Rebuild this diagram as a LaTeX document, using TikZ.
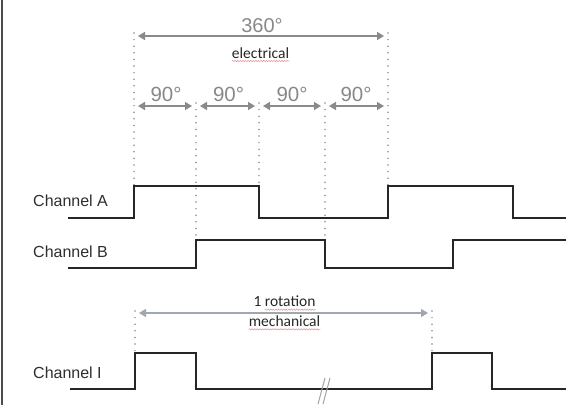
\documentclass[tikz,border=0pt]{standalone}
\usepackage{fontspec}
\setmainfont{Liberation Sans}
\newfontfamily\calib{Carlito}
\usetikzlibrary{arrows.meta,decorations.pathmorphing}
\definecolor{wavec}{HTML}{262626}
\definecolor{dimc}{HTML}{8A8A8A}
\definecolor{dimtext}{HTML}{888888}
\definecolor{mechc}{HTML}{A0A7AF}
\definecolor{squigc}{HTML}{E79A9A}
\definecolor{labc}{HTML}{2E2E2E}
\begin{document}
\begin{tikzpicture}[x=1pt,y=-1pt,
  wave/.style={draw=wavec,line width=2.2pt,line join=miter},
  guide/.style={draw=dimc,line width=1.7pt,line cap=round,dash pattern=on 0pt off 6.6pt},
  dimarrow/.style={draw=dimc,line width=1.5pt,{Triangle[length=7pt,width=8pt]}-{Triangle[length=7pt,width=8pt]}},
  mecharrow/.style={draw=mechc,line width=1.2pt,{Triangle[length=7pt,width=8pt]}-{Triangle[length=7pt,width=8pt]}},
  chanlabel/.style={inner sep=0pt,anchor=base west,text=labc,font=\fontsize{16}{18}\selectfont},
  deglabel/.style={inner sep=0pt,anchor=base,text=dimtext,font=\fontsize{20.5}{24}\selectfont},
  wordlabel/.style={inner sep=0pt,anchor=base,text=black!85,font=\calib\fontsize{15.5}{18}\selectfont},
  squig/.style={draw=squigc,line width=0.6pt,decorate,decoration={snake,amplitude=0.6pt,segment length=2.6pt}},
  breakmark/.style={draw=dimc!80,line width=1pt}
]
\useasboundingbox (0,0) rectangle (588,405);
% left frame edge
\draw[line width=2.4pt,color=black!70] (2.2,0) -- (2.2,405);

% named guide coordinates
\coordinate (g0t) at (134,33);  \coordinate (g0b) at (134,186);
\coordinate (g1t) at (196,103); \coordinate (g1b) at (196,240);
\coordinate (g2t) at (259,103); \coordinate (g2b) at (259,186);
\coordinate (g3t) at (325,103); \coordinate (g3b) at (325,240);
\coordinate (g4t) at (388,33);  \coordinate (g4b) at (388,186);
\coordinate (m0t) at (135,311); \coordinate (m0b) at (135,353);
\coordinate (m1t) at (432,311); \coordinate (m1b) at (432,353);

% dotted guides
\foreach \g in {g0,g1,g2,g3,g4,m0,m1} \draw[guide] (\g t) -- (\g b);

% electrical 360 arrow
\coordinate (e0) at (138,36); \coordinate (e1) at (384,36);
\draw[dimarrow] (e0) -- (e1);
\node[deglabel,font=\fontsize{20}{24}\selectfont] (d360) at (262,32.3) {360°};
\node[wordlabel] (elec) at (260.5,58) {electrical};
\draw[squig] ([yshift=-3pt]elec.base west) -- ([yshift=-3pt]elec.base east);

% 90 degree arrows
\coordinate (q0a) at (138,106); \coordinate (q0b) at (192,106);
\coordinate (q1a) at (200,106); \coordinate (q1b) at (255,106);
\coordinate (q2a) at (263,106); \coordinate (q2b) at (321,106);
\coordinate (q3a) at (329,106); \coordinate (q3b) at (384,106);
\foreach \q in {q0,q1,q2,q3} \draw[dimarrow] (\q a) -- (\q b);
\node[deglabel] (n90a) at (166,101.5) {90°};
\node[deglabel] (n90b) at (228.5,101.5) {90°};
\node[deglabel] (n90c) at (292,101.5) {90°};
\node[deglabel] (n90d) at (356,101.5) {90°};

% channel labels
\node[chanlabel] (chA) at (33,206) {Channel A};
\node[chanlabel] (chB) at (33,257.3) {Channel B};
\node[chanlabel] (chI) at (33,378.3) {Channel I};

% waveforms
\draw[wave] (68,218) -- (134,218) -- (134,186) -- (259,186) -- (259,218)
  -- (388,218) -- (388,186) -- (513,186) -- (513,218) -- (566,218);
\draw[wave] (68,268) -- (196,268) -- (196,240) -- (325,240) -- (325,268)
  -- (453,268) -- (453,240) -- (566,240);
\draw[wave] (70,389) -- (135,389) -- (135,353) -- (196,353) -- (196,389)
  -- (432,389) -- (432,353) -- (492,353) -- (492,389) -- (566,389);

% mechanical rotation arrow
\coordinate (r0) at (139,313); \coordinate (r1) at (428,313);
\draw[mecharrow] (r0) -- (r1);
\node[wordlabel] (rot) at (284.5,306.7) {1 rotation};
\node[wordlabel] (mech) at (284.5,326.3) {mechanical};
\draw[squig] ([xshift=11.4pt,yshift=-3pt]rot.base west) -- ([yshift=-3pt]rot.base east);
\draw[squig] ([yshift=-3pt]mech.base west) -- ([yshift=-3pt]mech.base east);

% break mark
\draw[breakmark] (325,378) -- (318,404);
\draw[breakmark] (330,378) -- (323,404);
\end{tikzpicture}
\end{document}
